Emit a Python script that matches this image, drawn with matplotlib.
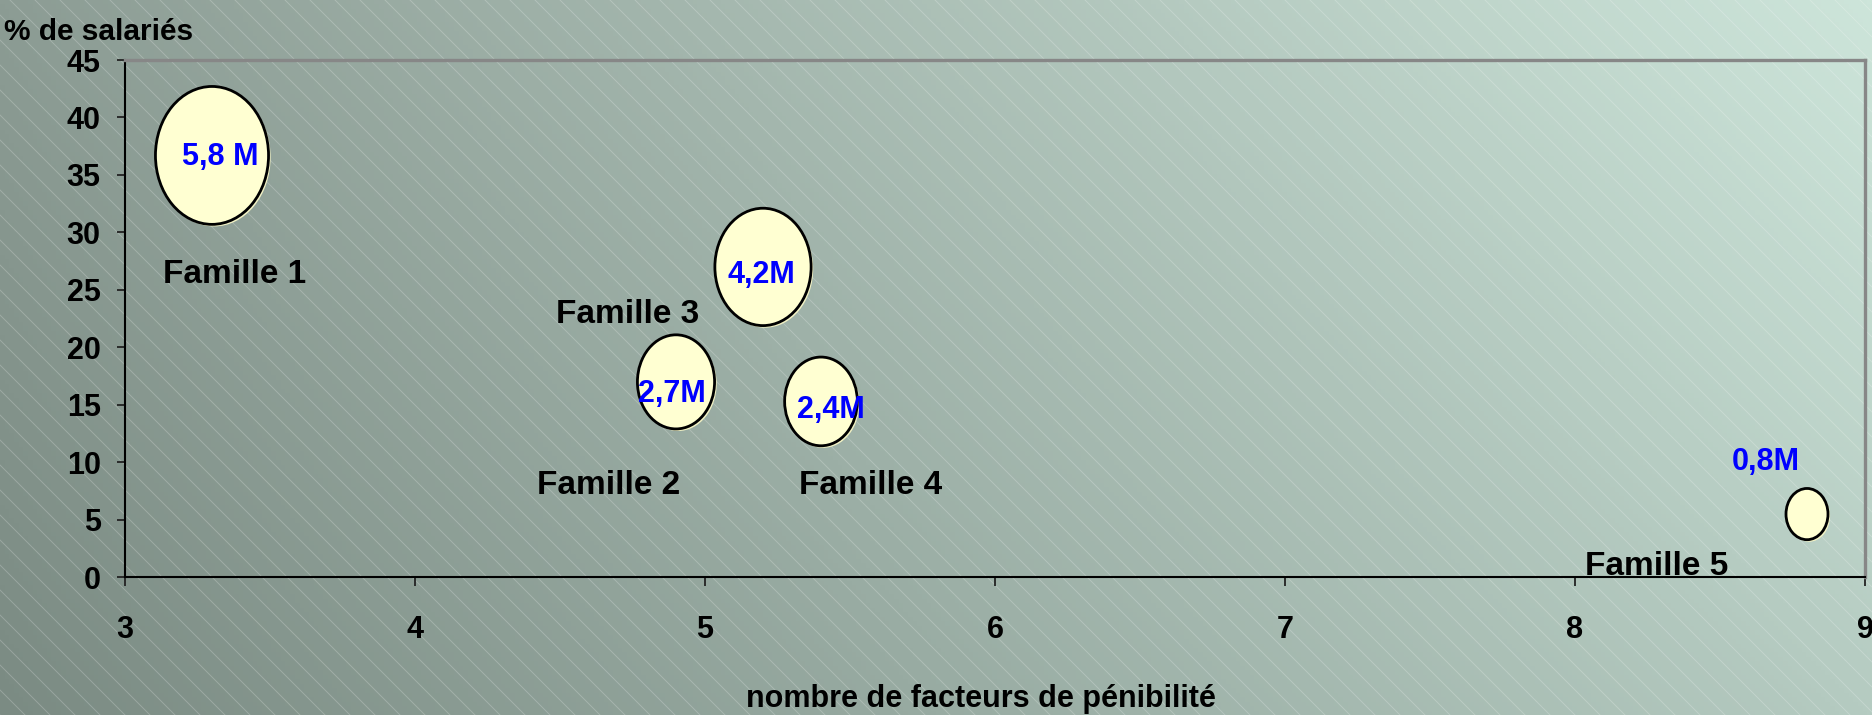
import numpy as np
import matplotlib
matplotlib.use('Agg')
import matplotlib.pyplot as plt
import matplotlib.patheffects as pe
from matplotlib.path import Path
from matplotlib.transforms import Affine2D
from matplotlib.collections import LineCollection

plt.rcParams['font.family'] = ['Liberation Sans', 'DejaVu Sans']
plt.rcParams['font.weight'] = 'bold'

# data
familles = ['Famille 1', 'Famille 2', 'Famille 3', 'Famille 4', 'Famille 5']
nb_facteurs = [3.3, 4.9, 5.2, 5.4, 8.8]
pct_salaries = [36.7, 17.0, 27.0, 15.3, 5.5]
effectifs = [5.8, 2.7, 4.2, 2.4, 0.8]          # millions of employees
etiquettes = ['5,8 M', '2,7M', '4,2M', '2,4M', '0,8M']

x_ticks = [3, 4, 5, 6, 7, 8, 9]
y_ticks = [0, 5, 10, 15, 20, 25, 30, 35, 40, 45]

# label offsets (points) from bubble centre
fam_offsets = [(16.6, -92), (-48.4, -81), (-97.3, -40.5), (35.6, -66.5), (-108.4, -43.8)]
val_offsets = [(5.8, -7), (-2.9, -14.5), (-1.4, -11.7), (6.8, -12), (-30, 31.8)]

W, H = 1872, 715

fig = plt.figure(figsize=(W / 100, H / 100), dpi=100)

# background: gradient + thin diagonal white lines
bg = fig.add_axes([0, 0, 1, 1], zorder=-10)
bl = np.array([123, 139, 131]) / 255
tl = np.array([140, 156, 148]) / 255
br = np.array([181, 203, 193]) / 255
tr = np.array([205, 229, 218]) / 255
u = np.linspace(0, 1, 400)[None, :, None]
v = np.linspace(0, 1, 160)[:, None, None]
grad = (1 - u) * (1 - v) * bl + u * (1 - v) * br + (1 - u) * v * tl + u * v * tr
bg.imshow(grad, extent=[0, W, 0, H], origin='lower', aspect='auto')
segs = [[(c - H - 50, H + 50), (c + 50, -50)] for c in range(0, W + H + 100, 25)]
bg.add_collection(LineCollection(segs, colors='white', linewidths=0.7, alpha=0.22))
bg.set_xlim(0, W)
bg.set_ylim(0, H)
bg.axis('off')

ax = fig.add_axes([125 / W, (H - 577.3) / H, (1865 - 125) / W, (577.3 - 60) / H])
ax.set_facecolor('none')

ellipse = Path.unit_circle().transformed(Affine2D().scale(0.82, 1.0))
ax.scatter(nb_facteurs, pct_salaries, s=[1700 * e for e in effectifs], marker=ellipse,
           facecolor='#FFFFD2', edgecolor='black', linewidths=2.0, zorder=3,
           path_effects=[pe.SimplePatchShadow(offset=(1.5, -1.5), shadow_rgbFace='#F2F2C4', alpha=1),
                         pe.Normal()])

for name, x, y, off in zip(familles, nb_facteurs, pct_salaries, fam_offsets):
    ax.annotate(name, (x, y), xytext=off, textcoords='offset points', ha='center',
                va='baseline', fontsize=24, fontweight='bold',
                color='black', zorder=4, annotation_clip=False)

for lab, x, y, off in zip(etiquettes, nb_facteurs, pct_salaries, val_offsets):
    ax.annotate(lab, (x, y), xytext=off, textcoords='offset points', ha='center',
                va='baseline', fontsize=22, fontweight='bold',
                color='#0000FF', zorder=5, annotation_clip=False)

ax.set_xlim(3, 9)
ax.set_ylim(0, 45)
ax.set_xticks(x_ticks)
ax.set_yticks(y_ticks)
ax.tick_params(axis='x', length=6.5, width=1.3, color='#222222', pad=21, labelsize=22)
ax.tick_params(axis='y', length=6, width=1.3, color='#222222', pad=11.5, labelsize=22)

for side in ['left', 'bottom']:
    ax.spines[side].set_color('black')
    ax.spines[side].set_linewidth(1.5)
for side in ['top', 'right']:
    ax.spines[side].set_color('#878787')
    ax.spines[side].set_linewidth(2.4)

fig.text(4 / W, (H - 40) / H, '% de salariés', ha='left', va='baseline',
         fontsize=21.5, fontweight='bold')
fig.text(981 / W, 8 / H, 'nombre de facteurs de pénibilité', ha='center', va='baseline',
         fontsize=22, fontweight='bold')

fig.savefig('out.png', dpi=100)
